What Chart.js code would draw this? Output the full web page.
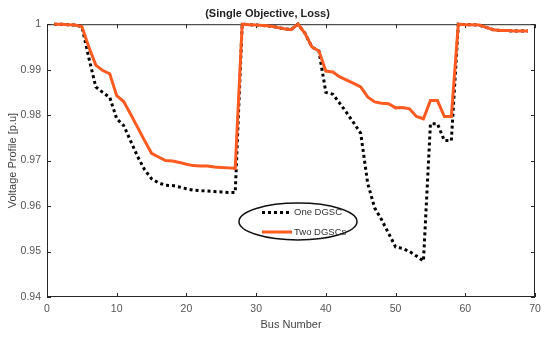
<!DOCTYPE html>
<html>
<head>
<meta charset="utf-8">
<script src="https://cdn.jsdelivr.net/npm/chart.js@4.4.0/dist/chart.umd.min.js"></script>
<style>
  html, body { margin: 0; padding: 0; background: #fff; }
  #wrap { width: 550px; height: 337px; }
</style>
</head>
<body>
<div id="wrap"><canvas id="voltChart"></canvas></div>
<script>
// bus numbers 1..69
const buses = [1,2,3,4,5,6,7,8,9,10,11,12,13,14,15,16,17,18,19,20,21,22,23,24,25,26,27,28,29,30,
  31,32,33,34,35,36,37,38,39,40,41,42,43,44,45,46,47,48,49,50,51,52,53,54,55,56,57,58,59,60,
  61,62,63,64,65,66,67,68,69];

// One DGSC (black dotted)
const oneDGSC = [1.0000,1.0000,0.9999,0.9998,0.9995,0.9926,0.9862,0.9850,0.9839,0.9792,
  0.9777,0.9743,0.9709,0.9680,0.9660,0.9651,0.9646,0.9645,0.9642,0.9638,
  0.9635,0.9634,0.9633,0.9632,0.9631,0.9630,0.9630,1.0000,0.9999,0.9998,
  0.9997,0.9996,0.9993,0.9990,0.9988,1.0000,0.9980,0.9950,0.9941,0.9850,
  0.9846,0.9826,0.9805,0.9783,0.9760,0.9650,0.9596,0.9570,0.9540,0.9510,
  0.9507,0.9500,0.9490,0.9479,0.9781,0.9781,0.9744,0.9744,1.0000,0.9999,
  0.9999,0.9998,0.9993,0.9988,0.9986,0.9986,0.9985,0.9985,0.9985];

// Two DGSCs (orange)
const twoDGSC = [1.0000,1.0000,0.9999,0.9998,0.9995,0.9950,0.9910,0.9898,0.9891,0.9843,
  0.9830,0.9802,0.9773,0.9744,0.9716,0.9708,0.9700,0.9699,0.9696,0.9692,
  0.9689,0.9688,0.9688,0.9686,0.9685,0.9684,0.9683,1.0000,0.9999,0.9998,
  0.9997,0.9996,0.9993,0.9990,0.9988,1.0000,0.9980,0.9950,0.9941,0.9897,
  0.9895,0.9884,0.9877,0.9870,0.9862,0.9840,0.9829,0.9826,0.9825,0.9816,
  0.9817,0.9814,0.9797,0.9792,0.9832,0.9832,0.9797,0.9797,1.0000,0.9999,
  0.9999,0.9998,0.9993,0.9988,0.9986,0.9986,0.9985,0.9985,0.9985];

const seriesNames = ["One DGSC", "Two DGSCs"];
const orange = "#ff5a1f";
const fontFam = "'Liberation Sans', Arial, sans-serif";

const pts = (arr) => buses.map((b, i) => ({ x: b, y: arr[i] }));

// frame, inner ticks and the ellipse legend (matlab look)
const matlabBox = {
  id: 'matlabBox',
  beforeDatasetsDraw(chart) {
    const { ctx, chartArea: a, scales } = chart;
    ctx.save();
    ctx.strokeStyle = '#262626';
    ctx.lineWidth = 1;
    ctx.strokeRect(a.left + 0.5, a.top + 0.5, a.right - a.left - 1, a.bottom - a.top - 1);
    const tl = 4;
    ctx.beginPath();
    scales.x.ticks.forEach(t => {
      const px = Math.round(scales.x.getPixelForValue(t.value)) + 0.5;
      ctx.moveTo(px, a.bottom); ctx.lineTo(px, a.bottom - tl);
      ctx.moveTo(px, a.top); ctx.lineTo(px, a.top + tl);
    });
    scales.y.ticks.forEach(t => {
      const py = Math.round(scales.y.getPixelForValue(t.value)) + 0.5;
      ctx.moveTo(a.left, py); ctx.lineTo(a.left + tl, py);
      ctx.moveTo(a.right, py); ctx.lineTo(a.right - tl, py);
    });
    ctx.stroke();
    ctx.restore();
  },
  afterDraw(chart) {
    const { ctx } = chart;
    ctx.save();
    // legend ellipse
    ctx.fillStyle = '#fff';
    ctx.strokeStyle = '#111';
    ctx.lineWidth = 1.5;
    ctx.beginPath();
    ctx.ellipse(298, 221.5, 59, 18.5, 0, 0, Math.PI * 2);
    ctx.fill();
    ctx.stroke();
    // entries
    ctx.lineWidth = 3;
    ctx.strokeStyle = '#000';
    ctx.setLineDash([3, 3]);
    ctx.beginPath(); ctx.moveTo(262, 212.5); ctx.lineTo(292, 212.5); ctx.stroke();
    ctx.setLineDash([]);
    ctx.strokeStyle = orange;
    ctx.beginPath(); ctx.moveTo(262, 232); ctx.lineTo(292, 232); ctx.stroke();
    ctx.fillStyle = '#333';
    ctx.font = '9.5px ' + fontFam;
    ctx.textBaseline = 'middle';
    ctx.fillText(seriesNames[0], 294, 212.5);
    ctx.fillText(seriesNames[1], 294, 232);
    ctx.restore();
  }
};

new Chart(document.getElementById('voltChart'), {
  type: 'line',
  data: {
    datasets: [
      {
        label: seriesNames[1],
        data: pts(twoDGSC),
        borderColor: orange,
        borderWidth: 3,
        pointRadius: 0,
        tension: 0,
        order: 1,
        clip: 4
      },
      {
        label: seriesNames[0],
        data: pts(oneDGSC),
        borderColor: '#000',
        borderWidth: 3,
        borderDash: [3, 3],
        pointRadius: 0,
        tension: 0,
        order: 2,
        clip: 4
      }
    ]
  },
  options: {
    responsive: true,
    maintainAspectRatio: false,
    animation: false,
    layout: { padding: { left: 0, right: 15, top: 0, bottom: 0 } },
    plugins: {
      legend: { display: false },
      tooltip: { enabled: false },
      title: {
        display: true,
        text: '(Single Objective, Loss)',
        color: '#222',
        font: { family: fontFam, size: 11, weight: 'bold' },
        padding: { top: 7, bottom: 4 }
      }
    },
    scales: {
      x: {
        type: 'linear',
        min: 0, max: 70,
        grid: { display: false, drawTicks: false, tickLength: 0 },
        border: { display: false },
        ticks: { stepSize: 10, color: '#555', font: { family: fontFam, size: 10.5 }, padding: 6, maxRotation: 0 },
        title: { display: true, text: 'Bus Number', color: '#444', font: { family: fontFam, size: 11 }, padding: { top: 2, bottom: 5 } },
        afterFit(s) { s.height = 40; }
      },
      y: {
        min: 0.94, max: 1,
        grid: { display: false, drawTicks: false, tickLength: 0 },
        border: { display: false },
        ticks: {
          stepSize: 0.01, color: '#555', font: { family: fontFam, size: 10.5 }, padding: 6,
          callback: v => (Math.abs(v - 1) < 1e-9 ? '1' : v.toFixed(2))
        },
        title: { display: true, text: 'Voltage Profile [p.u]', color: '#444', font: { family: fontFam, size: 11 }, padding: { top: 6, bottom: 2 } },
        afterFit(s) { s.width = 47; }
      }
    }
  },
  plugins: [matlabBox]
});
</script>
</body>
</html>
